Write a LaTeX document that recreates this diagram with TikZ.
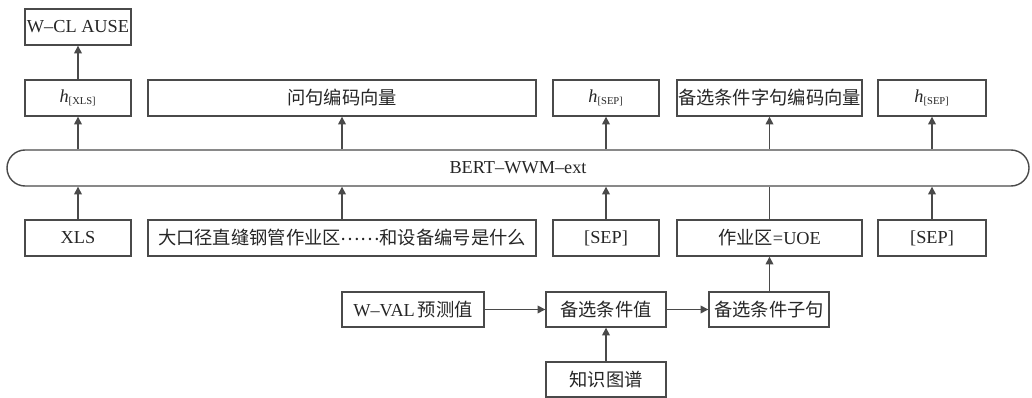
\documentclass[tikz,border=0pt]{standalone}
\usepackage{fontspec}
\setmainfont{Liberation Serif}
\newfontfamily\cjk{Noto Sans CJK SC}
\usetikzlibrary{arrows.meta}
\definecolor{linec}{HTML}{4A4A4A}
\newcommand\mkbox[6]{\node[box, minimum width={(#4-#2)*0.025cm}, minimum height={(#5-#3)*0.025cm}] (#1) at ({(#2+#4)/2},{(#3+#5)/2}) {#6};}
\newcommand\hsub[1]{\textit{h}\textsubscript{\fontsize{7.5}{8}\selectfont #1}}
\begin{document}
\begin{tikzpicture}[x=0.025cm,y=-0.025cm,
 box/.style={draw=linec, line width=1pt, inner sep=0pt, fill=white, text=black!85, font=\fontsize{13}{15}\selectfont},
 arr/.style={draw=linec, line width=1pt, -{Triangle[length=5.5pt,width=5.5pt]}},
 ln/.style={draw=linec, line width=1pt}]
\useasboundingbox (0,0) rectangle (1032,398);
% top
\mkbox{wc}{25}{9}{131}{45}{W–CL AUSE}
\mkbox{hx}{25}{80}{131}{116}{\hsub{[XLS]}}
\mkbox{q}{148}{80}{536}{116}{\cjk 问句编码向量}
\mkbox{hs1}{553}{80}{659}{116}{\hsub{[SEP]}}
\mkbox{cv}{677}{80}{862}{116}{\cjk 备选条件字句编码向量}
\mkbox{hs2}{878}{80}{986}{116}{\hsub{[SEP]}}
% BERT
\node[box, rounded corners=0.45cm, minimum width={1022*0.025cm}, minimum height={36*0.025cm}] (bert) at (518,168) {BERT–WWM–ext};
% bottom row
\mkbox{xls}{25}{220}{131}{256}{XLS}
\mkbox{s}{148}{220}{536}{256}{\cjk 大口径直缝钢管作业区\raisebox{0.4ex}{……}和设备编号是什么}
\mkbox{sep1}{553}{220}{659}{256}{[SEP]}
\mkbox{uoe}{677}{220}{862}{256}{{\cjk 作业区}=UOE}
\mkbox{sep2}{878}{220}{986}{256}{[SEP]}
% lower
\mkbox{wv}{342}{292}{484}{327}{W–VAL\,{\cjk 预测值}}
\mkbox{bv}{546}{292}{666}{327}{\cjk 备选条件值}
\mkbox{bc}{709}{292}{829}{327}{\cjk 备选条件子句}
\mkbox{kg}{546}{362}{666}{397}{\cjk 知识图谱}
% connectors
\draw[arr] (hx) -- (wc);
\draw[arr] (bert.north -| hx) -- (hx);
\draw[arr] (bert.north -| s) -- (q.south -| s);
\draw[arr] (bert.north -| sep1) -- (hs1);
\draw[arr] (bert.north -| uoe) -- (cv);
\draw[arr] (bert.north -| sep2) -- (hs2);
\draw[arr] (xls) -- (bert.south -| xls);
\draw[arr] (s) -- (bert.south -| s);
\draw[arr] (sep1) -- (bert.south -| sep1);
\draw[ln] (uoe) -- (bert.south -| uoe);
\draw[arr] (sep2) -- (bert.south -| sep2);
\draw[arr] (bc.north -| uoe) -- (uoe);
\draw[arr] (wv) -- (bv);
\draw[arr] (bv) -- (bc);
\draw[arr] (kg) -- (bv);
\end{tikzpicture}
\end{document}
